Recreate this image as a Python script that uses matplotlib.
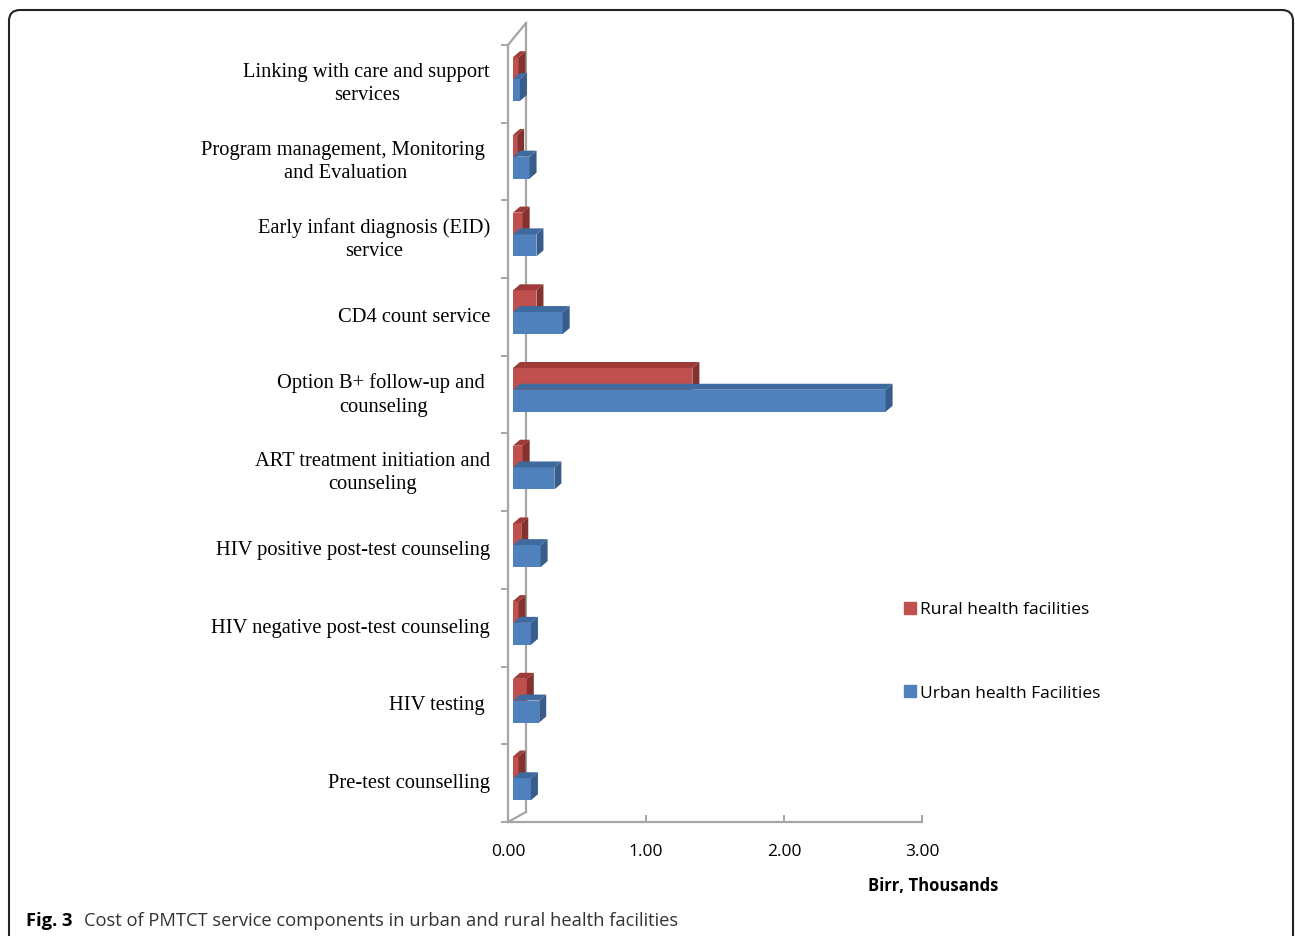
import matplotlib
matplotlib.use('Agg')
import matplotlib.pyplot as plt
from matplotlib.patches import Polygon, FancyBboxPatch
from matplotlib.lines import Line2D
import numpy as np

# categories bottom -> top
categories = [
    'Pre-test counselling',
    'HIV testing ',
    'HIV negative post-test counseling',
    'HIV positive post-test counseling',
    'ART treatment initiation and\ncounseling',
    'Option B+ follow-up and \ncounseling',
    'CD4 count service',
    'Early infant diagnosis (EID)\nservice',
    'Program management, Monitoring \nand Evaluation',
    'Linking with care and support\nservices',
]
rural = [0.04, 0.10, 0.04, 0.06, 0.07, 1.30, 0.17, 0.07, 0.03, 0.04]
urban = [0.13, 0.19, 0.13, 0.20, 0.30, 2.70, 0.36, 0.17, 0.12, 0.05]
xticks = [0.0, 1.0, 2.0, 3.0]

RED = {'front': '#C0504D', 'top': '#9E3B39', 'side': '#843230'}
BLUE = {'front': '#4F81BD', 'top': '#3F6A9E', 'side': '#385D8A'}
GRID = '#A6A6A6'

W, H = 1295, 936
fig = plt.figure(figsize=(W / 100, H / 100), dpi=100)

# rounded frame (open at the bottom)
frame = fig.add_axes([0, 0, 1, 1])
frame.set_xlim(0, W)
frame.set_ylim(H, 0)
frame.axis('off')
frame.add_patch(FancyBboxPatch((9, 10), 1284, 960, boxstyle='round,pad=0,rounding_size=11',
                               facecolor='none', edgecolor='#222222', linewidth=1.5))

x0, x1 = 508, 922
yb, yt = 822, 45
ax = fig.add_axes([x0 / W, 1 - yb / H, (x1 - x0) / W, (yb - yt) / H])
ax.set_xlim(0, 3)
ax.set_ylim(-0.5, len(categories) - 0.5)
ax.axis('off')

# 3D depth offsets (data units)
ddx = 18 / 138.0
ddy = 10 / 77.7
fx = 5 / 138.0          # front face start
bdx = 7 / 138.0         # bar depth in x
bdy = 6 / 77.7          # bar depth in y
bh = 0.283

# walls / axes
n = len(categories)
ax.plot([0, 0], [-0.5, n - 0.5], color=GRID, lw=1.6, clip_on=False)
ax.plot([ddx, ddx], [-0.5 + ddy, n - 0.5 + ddy * 2.2], color=GRID, lw=1.6, clip_on=False)
ax.plot([0, ddx], [n - 0.5, n - 0.5 + ddy * 2.2], color=GRID, lw=1.6, clip_on=False)
ax.plot([0, ddx], [-0.5, -0.5 + ddy], color=GRID, lw=1.6, clip_on=False)
ax.plot([0, 3], [-0.5, -0.5], color=GRID, lw=1.6, clip_on=False)
for i in range(n + 1):
    ax.plot([-6 / 138.0, 0], [i - 0.5, i - 0.5], color=GRID, lw=1.4, clip_on=False)
for xt in xticks[1:]:
    ax.plot([xt, xt], [-0.5, -0.5 + 6 / 77.7], color=GRID, lw=1.4, clip_on=False)


def bar3d(y0, val, col):
    ax.barh(y0, val, left=fx, height=bh, align='edge', color=col['front'],
            edgecolor='none', zorder=3)
    xe = fx + val
    top = [(fx, y0 + bh), (xe, y0 + bh), (xe + bdx, y0 + bh + bdy), (fx + bdx, y0 + bh + bdy)]
    side = [(xe, y0), (xe + bdx, y0 + bdy), (xe + bdx, y0 + bh + bdy), (xe, y0 + bh)]
    ax.add_patch(Polygon(top, closed=True, facecolor=col['top'], edgecolor='none', zorder=3))
    ax.add_patch(Polygon(side, closed=True, facecolor=col['side'], edgecolor='none', zorder=3))


for i in range(n):
    bar3d(i + 0.06, rural[i], RED)
    bar3d(i - 0.22, urban[i], BLUE)

# category labels
for i, lab in enumerate(categories):
    ax.text(-18 / 138.0, i - 0.005, lab, ha='right', va='center', multialignment='center',
            family='Liberation Serif', fontsize=14.8, color='black', clip_on=False,
            linespacing=1.3)

# x tick labels
for xt in xticks:
    ax.text(xt, -0.5 - 30 / 77.7, f'{xt:.2f}', ha='center', va='center',
            family='Open Sans', fontsize=12.5, color='black', clip_on=False)
ax.text(3.55, -0.5 - 64 / 77.7, 'Birr, Thousands', ha='right', va='center',
        family='Open Sans', fontsize=12, fontweight='bold', clip_on=False)

# legend
leg = [
    Line2D([0], [0], marker='s', ls='none', color=RED['front'], markersize=9,
           label='Rural health facilities'),
    Line2D([0], [0], marker='s', ls='none', color=BLUE['front'], markersize=9,
           label='Urban health Facilities'),
]
fig.legend(handles=leg, loc='center left', bbox_to_anchor=(884 / W, 1 - 651.5 / H),
           frameon=False, prop={'family': 'Open Sans', 'size': 12.5},
           labelspacing=3.9, handletextpad=0.0, handlelength=1.2)

# caption
fig.text(26 / W, 1 - 921 / H, r'Fig. 3', family='Open Sans', fontsize=13.2,
         fontweight='bold', va='center', ha='left')
fig.text(84 / W, 1 - 921 / H, 'Cost of PMTCT service components in urban and rural health facilities',
         family='Open Sans', fontsize=13.2, va='center', ha='left', color='#333333')

fig.savefig('out.png', dpi=100)
